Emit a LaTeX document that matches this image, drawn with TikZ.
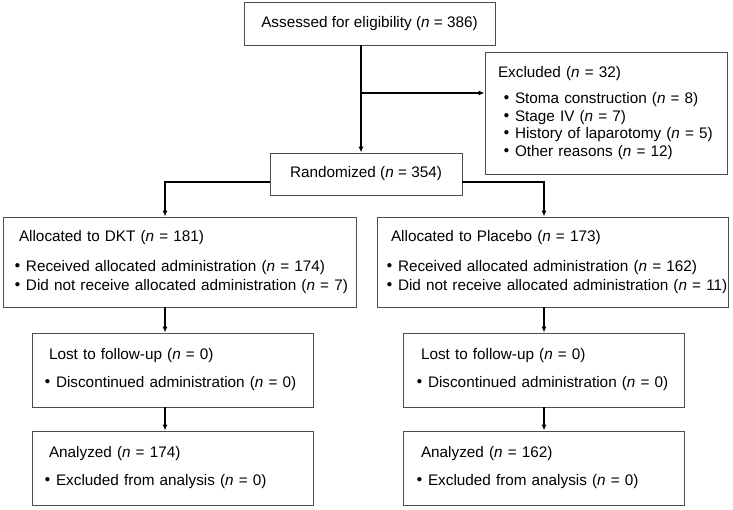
\documentclass[tikz,border=0pt]{standalone}
\usepackage{fontspec}
\setmainfont{Liberation Sans}
\newfontfamily\cjk{Noto Sans CJK JP}
\usepackage{tikz}
\usetikzlibrary{arrows.meta}
\usetikzlibrary{calc}

\newcommand{\bul}[1]{\mbox{\makebox[17pt]{\cjk\bfseries ・}#1}}
\newcommand{\hd}[1]{\mbox{\hspace*{10pt}#1}}
\newcommand{\nn}{\textit{n}}

\begin{document}
\begin{tikzpicture}[x=1pt, y=-1pt,
  every node/.style={font=\fontsize{15.3}{19}\selectfont},
  box/.style={draw=black!70, line width=0.9pt, inner ysep=0pt, align=left},
  arr/.style={line width=1.2pt, -{Latex[length=6pt, width=5pt]}}]
\useasboundingbox (0,0) rectangle (733,510);

\path (369.5,23.5) node[box, align=center, minimum width=251pt, minimum height=43pt] (assess)
  {Assessed for eligibility (\nn{} = 386)};
\path (606,113) node[box, font=\fontsize{15.3}{17.5}\selectfont, inner xsep=13pt, text width=216pt, minimum height=122pt] (excl)
  {\mbox{Excluded (\nn{} = 32)}\\[8.5pt]
   \bul{Stoma construction (\nn{} = 8)}\\
   \bul{Stage IV (\nn{} = 7)}\\
   \bul{History of laparotomy (\nn{} = 5)}\\
   \bul{Other reasons (\nn{} = 12)}};
\path (366,174) node[box, align=center, minimum width=192pt, minimum height=42pt] (rand)
  {Randomized (\nn{} = 354)};

\path (179.5,262) node[box, inner xsep=6pt, text width=341pt, minimum height=90pt] (dkt)
  {\hd{Allocated to DKT (\nn{} = 181)}\\[11pt]
   \bul{Received allocated administration (\nn{} = 174)}\\
   \bul{Did not receive allocated administration (\nn{} = 7)}};
\path (552.5,262) node[box, inner xsep=4pt, text width=343pt, minimum height=90pt] (plc)
  {\hd{Allocated to Placebo (\nn{} = 173)}\\[11pt]
   \bul{Received allocated administration (\nn{} = 162)}\\
   \bul{Did not receive allocated administration (\nn{} = 11)}};

\path (172.5,370) node[box, inner xsep=7pt, text width=267pt, minimum height=74pt] (lostA)
  {\hd{Lost to follow-up (\nn{} = 0)}\\[9pt]
   \bul{Discontinued administration (\nn{} = 0)}};
\path (543.5,370) node[box, inner xsep=8pt, text width=265pt, minimum height=74pt] (lostB)
  {\hd{Lost to follow-up (\nn{} = 0)}\\[9pt]
   \bul{Discontinued administration (\nn{} = 0)}};

\path (172.5,468) node[box, inner xsep=7pt, text width=267pt, minimum height=74pt] (anA)
  {\hd{Analyzed (\nn{} = 174)}\\[9pt]
   \bul{Excluded from analysis (\nn{} = 0)}};
\path (543.5,468) node[box, inner xsep=8pt, text width=265pt, minimum height=74pt] (anB)
  {\hd{Analyzed (\nn{} = 162)}\\[9pt]
   \bul{Excluded from analysis (\nn{} = 0)}};

\coordinate (jn) at (361,93);

\draw[arr] ([xshift=-8.5pt]assess.south) -- ([xshift=-5pt]rand.north);
\draw[arr] (jn) -- (jn -| excl.west);
\draw[arr] ([yshift=-8pt]rand.west) -| ([xshift=-14.5pt]dkt.north);
\draw[arr] ([yshift=-8pt]rand.east) -| ([xshift=-8.5pt]plc.north);
\draw[arr] ([xshift=-14.5pt]dkt.south) -- ([xshift=-7.5pt]lostA.north);
\draw[arr] ([xshift=-8.5pt]plc.south) -- ([xshift=0.5pt]lostB.north);
\draw[arr] ([xshift=-7.5pt]lostA.south) -- ([xshift=-7.5pt]anA.north);
\draw[arr] ([xshift=0.5pt]lostB.south) -- ([xshift=0.5pt]anB.north);

\end{tikzpicture}
\end{document}
